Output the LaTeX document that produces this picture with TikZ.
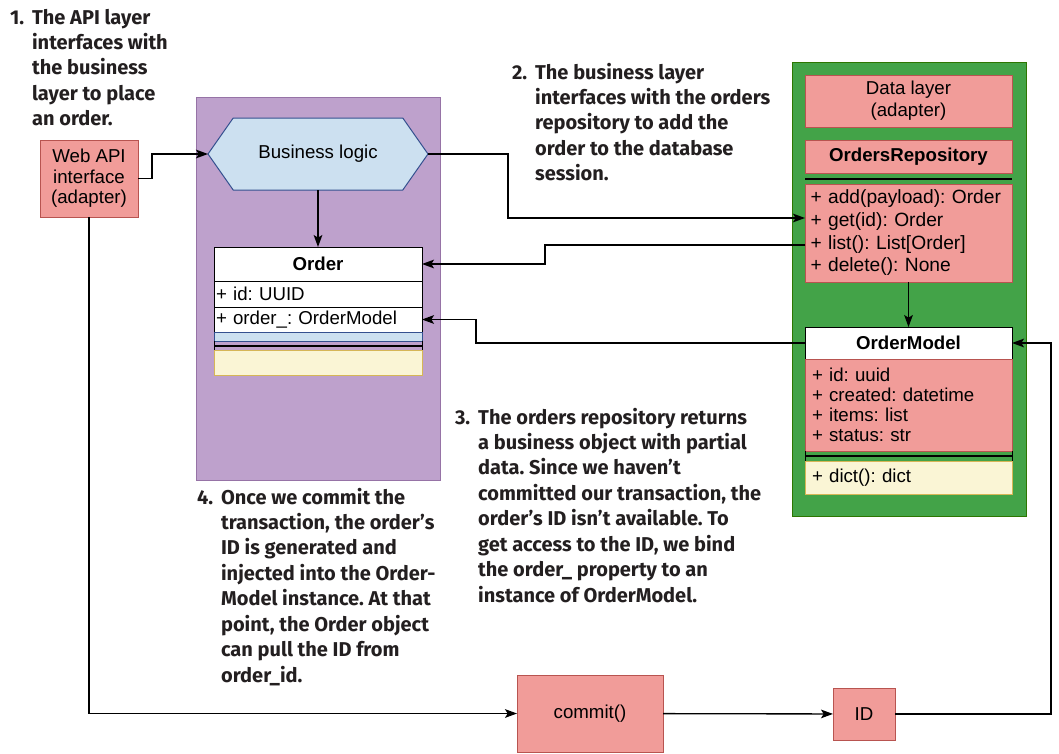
\documentclass[tikz,border=0pt]{standalone}
\usepackage{fontspec}
\usepackage{tikz}
\usetikzlibrary{positioning, arrows.meta, shapes.symbols}
\newfontfamily\boxfont{Liberation Sans}
\newfontfamily\notefont{Fira Sans}
\newlength{\px}
\setlength{\px}{0.75pt}
\definecolor{pinkfill}{HTML}{F19C99}
\definecolor{pinkline}{HTML}{B85450}
\definecolor{purplefill}{HTML}{BEA1CC}
\definecolor{purpleline}{HTML}{9673A6}
\definecolor{greenfill}{HTML}{43A348}
\definecolor{greenline}{HTML}{2D7600}
\definecolor{bluefill}{HTML}{CCE0F0}
\definecolor{blueline}{HTML}{34508F}
\definecolor{yellowfill}{HTML}{FAF5D5}
\definecolor{yellowline}{HTML}{D6B656}
\definecolor{notetext}{HTML}{231F20}
\frenchspacing

\begin{document}
\begin{tikzpicture}[
        x=0.75pt, y=-0.75pt, line width=1pt,
        every node/.style={outer sep=0pt, inner sep=0pt, font=\boxfont\fontsize{14}{16}\selectfont},
        layer/.style={line width=0.75pt},
        box/.style={draw=pinkline, fill=pinkfill, line width=0.75pt, align=center},
        plain/.style={draw=black, fill=white, line width=0.75pt},
        ops/.style={draw=yellowline, fill=yellowline!0!yellowfill, line width=0.75pt},
        hexa/.style={shape=signal, signal to=west and east, signal pointer angle=110, draw=blueline, fill=bluefill, line width=0.75pt},
        head/.style={font=\boxfont\bfseries\fontsize{14}{16}\selectfont},
        members/.style={align=left, text width=#1},
        note/.style={font=\notefont\bfseries\fontsize{15}{19.1}\selectfont, text=notetext, anchor=base west},
        >={Stealth[length=9pt, width=6.5pt, inset=2pt]}
    ]

    \useasboundingbox (0,0) rectangle (1059,753);

    \node (bizlayer) [layer, draw=purpleline, fill=purplefill, minimum width=244\px, minimum height=383\px] at (318,288.5) {};
    \node (datalayer) [layer, draw=greenline, fill=greenfill, minimum width=234\px, minimum height=454\px] at (909,289) {};

    \node (webapi) [box, minimum width=98\px, minimum height=77\px, font=\boxfont\fontsize{14}{15.4}\selectfont] at (89,178.5) {Web API\\interface\\(adapter)};
    \node (bizlogic) [hexa, minimum width=220\px, minimum height=72\px] at (318,154) {Business logic};

    \node (ordhead) [plain, head, minimum width=208\px, minimum height=34\px] at (318,264) {Order};
    \node (ordid) [plain, members=204\px, inner xsep=2\px, minimum height=26\px, below=0pt of ordhead] {+ id: UUID};
    \node (ordref) [plain, members=204\px, inner xsep=2\px, minimum height=25\px, below=0pt of ordid] {+ order\_: OrderModel};
    \node (ordstrip) [draw=blueline, fill=bluefill, line width=0.75pt, minimum width=208\px, minimum height=9\px, below=0pt of ordref] {};
    \node (ordops) [ops, minimum width=208\px, minimum height=25\px, below=9\px of ordstrip] {};
    \draw[line width=0.75pt] (ordstrip.south west) -- (ordops.north west) (ordstrip.south east) -- (ordops.north east);
    \draw[line width=1.1pt] ([yshift=-5\px]ordstrip.south west) -- ([yshift=-5\px]ordstrip.south east);

    \node (dlabel) [box, minimum width=207\px, minimum height=52\px, font=\boxfont\fontsize{14}{16.5}\selectfont] at (908.5,101) {Data layer\\(adapter)};
    \node (repohead) [box, head, minimum width=207\px, minimum height=33\px] at (908.5,156.5) {OrdersRepository};
    \node (repometh) [box, members=196\px, inner xsep=5.5\px, minimum height=98\px, below=11\px of repohead, font=\boxfont\fontsize{14.4}{17}\selectfont] {+ add(payload): Order\\+ get(id): Order\\+ list(): List[Order]\\+ delete(): None};
    \draw[line width=1.1pt] ([yshift=-6\px]repohead.south west) -- ([yshift=-6\px]repohead.south east);

    \node (modhead) [plain, head, minimum width=207\px, minimum height=32\px] at (908.5,343) {OrderModel};
    \node (modattr) [box, members=193\px, inner xsep=7\px, minimum height=92\px, below=0pt of modhead, font=\boxfont\fontsize{14}{15}\selectfont] {+ id: uuid\\+ created: datetime\\+ items: list\\+ status: str};
    \node (modops) [ops, members=193\px, inner xsep=7\px, minimum height=33\px, below=10\px of modattr] {+ dict(): dict};
    \draw[line width=0.75pt] (modattr.south west) -- (modops.north west) (modattr.south east) -- (modops.north east);
    \draw[line width=1.1pt] ([yshift=-5\px]modattr.south west) -- ([yshift=-5\px]modattr.south east);

    \node (commit) [box, minimum width=146\px, minimum height=77\px] at (590,713.5) {commit()};
    \node (idbox) [box, minimum width=62\px, minimum height=52\px] at (864,714) {ID};

    \node (note1) [note] at (10,24) {\begin{tabular}[t]{@{}l@{\hspace{6pt}}l@{}}
        1.&The API layer\\&interfaces with\\&the business\\&layer to place\\&an order.\end{tabular}};
    \node (note2) [note] at (512,79) {\begin{tabular}[t]{@{}l@{\hspace{6pt}}l@{}}
        2.&The business layer\\&interfaces with the orders\\&repository to add the\\&order to the database\\&session.\end{tabular}};
    \node (note3) [note] at (455,424) {\begin{tabular}[t]{@{}l@{\hspace{6pt}}l@{}}
        3.&The orders repository returns\\&a business object with partial\\&data. Since we haven’t\\&committed our transaction, the\\&order’s ID isn’t available. To\\&get access to the ID, we bind\\&the order\_ property to an\\&instance of OrderModel.\end{tabular}};
    \node (note4) [note] at (197,504) {\begin{tabular}[t]{@{}l@{\hspace{6pt}}l@{}}
        4.&Once we commit the\\&transaction, the order’s\\&ID is generated and\\&injected into the Order-\\&Model instance. At that\\&point, the Order object\\&can pull the ID from\\&order\_id.\end{tabular}};

    \draw[->] (webapi.east) -- ++(14,0) |- (bizlogic.west);
    \draw[->] (bizlogic.south) -- (ordhead.north);
    \draw[->] (bizlogic.east) -- (508,154) |- (repometh.west |- 0,218);
    \draw[->] (repometh.west |- 0,245) -- (545,245) |- (ordhead.east);
    \draw[->] (modhead.west) -- (476,343) |- (ordref.east);
    \draw[->] (repometh.south) -- (modhead.north);
    \draw[->] (webapi.south) |- (commit.west);
    \draw[->] (commit) -- (idbox);
    \draw[->] (idbox.east) -- (1051,714) |- (modhead.east);

\end{tikzpicture}
\end{document}
